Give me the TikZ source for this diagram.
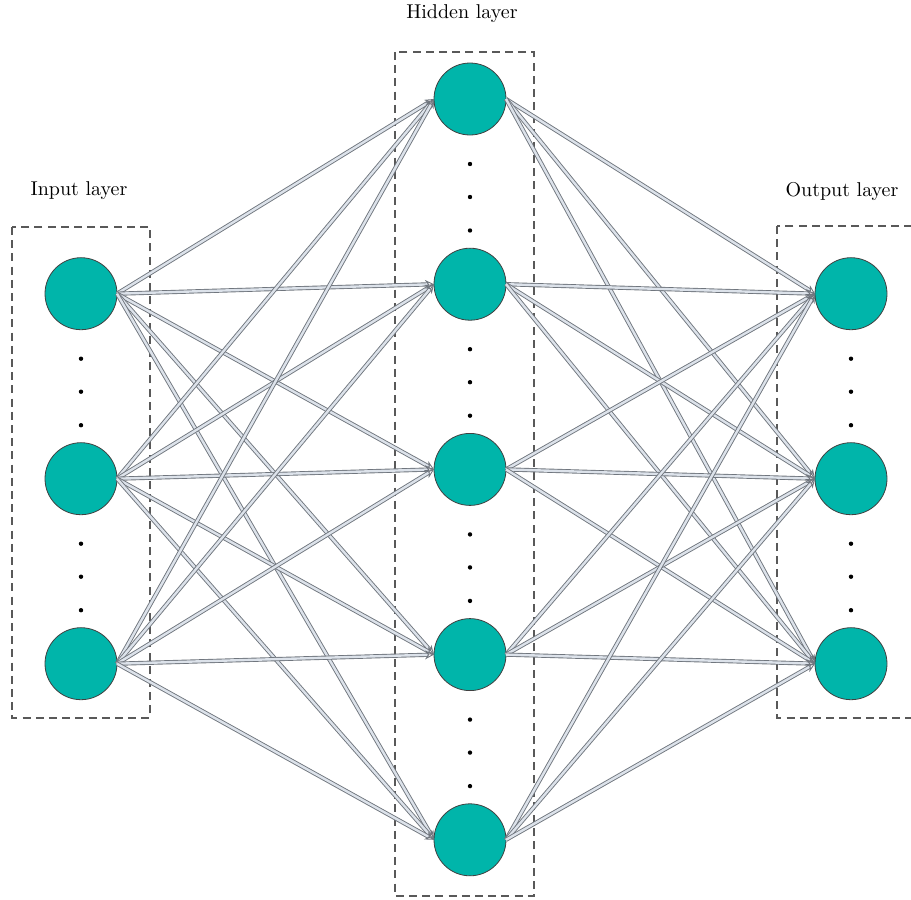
\documentclass[tikz,border=0pt]{standalone}
\usetikzlibrary{positioning,arrows.meta}
\definecolor{neuron}{RGB}{0,181,170}
\definecolor{wire}{RGB}{112,118,126}
\definecolor{wirefill}{RGB}{220,226,234}

\begin{document}
\begin{tikzpicture}
[x=0.5pt,y=-0.5pt,
 neu/.style={circle,draw=black!75,line width=0.4pt,fill=neuron,minimum size=36pt,inner sep=0mm,outer sep=0mm},
 layer/.style={draw=black!65,line width=0.9pt,dash pattern=on 4pt off 2.6pt},
 link/.style={draw=wire,line width=0.45pt,double=wirefill,double distance=1.2pt,-{Stealth[open,length=4.5pt,width=4.5pt]}}]
\path[use as bounding box,clip] (0,0) rectangle (911,900);
% layer boxes
\draw[layer] (12,227)  rectangle (150,718);
\draw[layer] (395,52)  rectangle (534,896);
\draw[layer] (777,226) rectangle (940,718);
% neurons
\node[neu] (h1) at (470,99) {};
\node[neu] (h2) [on grid,below=92.6pt of h1] {};
\node[neu] (h3) [on grid,below=92.6pt of h2] {};
\node[neu] (h4) [on grid,below=92.6pt of h3] {};
\node[neu] (h5) [on grid,below=92.6pt of h4] {};
\node[neu] (x1) [on grid,below  left=4.75pt and 194.5pt of h2] {};
\node[neu] (x2) [on grid,below=92.5pt of x1] {};
\node[neu] (x3) [on grid,below=92.5pt of x2] {};
\node[neu] (y1) [on grid,below right=4.75pt and 190.5pt of h2] {};
\node[neu] (y2) [on grid,below=92.5pt of y1] {};
\node[neu] (y3) [on grid,below=92.5pt of y2] {};
% labels
\node (tin)  at (79,191) {Input layer};
\node (thid) at (462,14) {Hidden layer};
\node (tout) at (842,191) {Output layer};
% dots between neurons
\foreach \n in {x1,x2,h1,h2,h3,h4,y1,y2}
  \foreach \off in {32.5,49,65.75}
    \fill ([yshift=-\off pt]\n.center) circle (1.1pt);
% input -> hidden
\path (x1.east) edge[link] (h1.west);
\path (x1.east) edge[link] (h2.west);
\path (x1.east) edge[link] (h3.west);
\path (x1.east) edge[link] (h4.west);
\path (x1.east) edge[link] (h5.west);
\path (x2.east) edge[link] (h1.west);
\path (x2.east) edge[link] (h2.west);
\path (x2.east) edge[link] (h3.west);
\path (x2.east) edge[link] (h4.west);
\path (x2.east) edge[link] (h5.west);
\path (x3.east) edge[link] (h1.west);
\path (x3.east) edge[link] (h2.west);
\path (x3.east) edge[link] (h3.west);
\path (x3.east) edge[link] (h4.west);
\path (x3.east) edge[link] (h5.west);
% hidden -> output
\path (h1.east) edge[link] (y1.west);
\path (h1.east) edge[link] (y2.west);
\path (h1.east) edge[link] (y3.west);
\path (h2.east) edge[link] (y1.west);
\path (h2.east) edge[link] (y2.west);
\path (h2.east) edge[link] (y3.west);
\path (h3.east) edge[link] (y1.west);
\path (h3.east) edge[link] (y2.west);
\path (h3.east) edge[link] (y3.west);
\path (h4.east) edge[link] (y1.west);
\path (h4.east) edge[link] (y2.west);
\path (h4.east) edge[link] (y3.west);
\path (h5.east) edge[link] (y1.west);
\path (h5.east) edge[link] (y2.west);
\path (h5.east) edge[link] (y3.west);
\end{tikzpicture}
\end{document}
